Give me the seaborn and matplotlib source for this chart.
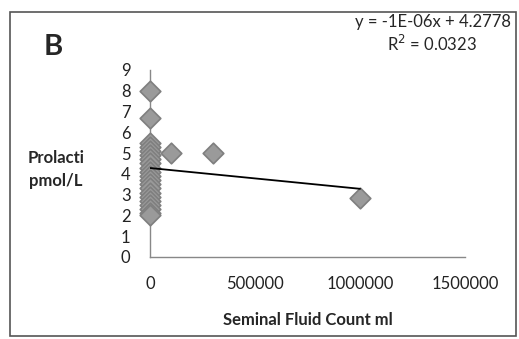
import matplotlib.pyplot as plt
import numpy as np
import seaborn as sns
import pandas as pd

# seminal fluid count (x) vs prolactin (y)
COUNT = [0] * 21 + [100000, 300000, 1000000]
PROLACTIN = [8.0, 6.7, 5.5, 5.3, 5.1, 4.9, 4.7, 4.5, 4.3, 4.1, 3.9, 3.7,
             3.5, 3.3, 3.1, 2.9, 2.7, 2.5, 2.3, 2.1, 2.0,
             5.0, 5.0, 2.85]
SLOPE = -1e-06
INTERCEPT = 4.2778
TREND_X = [0, 1000000]
X_TICKS = [0, 500000, 1000000, 1500000]
Y_TICKS = list(range(0, 10))

sns.set_style("white")
plt.rcParams["font.family"] = ["Lato", "DejaVu Sans"]

df = pd.DataFrame({"count": COUNT, "prolactin": PROLACTIN})

fig = plt.figure(figsize=(5.19, 3.39), dpi=100)
ax = fig.add_axes([0.289, 0.242, 0.607, 0.552])

sns.scatterplot(data=df, x="count", y="prolactin", ax=ax,
                marker="D", s=110, color="#9a9a9a",
                edgecolor="#7f7f7f", linewidth=1.2, zorder=3, clip_on=False)

tx = np.array(TREND_X)
ax.plot(tx, SLOPE * tx + INTERCEPT, color="black", linewidth=1.3, zorder=4)

ax.set_xlim(0, 1500000)
ax.set_ylim(0, 9)
ax.set_xticks(X_TICKS)
ax.set_xticklabels([str(t) for t in X_TICKS])
ax.set_yticks(Y_TICKS)
ax.tick_params(axis="both", labelsize=12, colors="#222222", length=4,
               color="#888888")
ax.tick_params(axis="x", direction="inout", length=6, pad=11)
ax.tick_params(axis="y", direction="out", pad=10)
ax.spines["top"].set_visible(False)
ax.spines["right"].set_visible(False)
for s in ["left", "bottom"]:
    ax.spines[s].set_color("#888888")
    ax.spines[s].set_linewidth(1.0)

ax.set_xlabel("Seminal Fluid Count ml", fontsize=12, fontweight="bold",
              labelpad=14)
ax.set_ylabel("")
fig.text(0.108, 0.50, "Prolacti\npmol/L", ha="center", va="center",
         fontsize=12, fontweight="bold", linespacing=1.5)

fig.text(0.085, 0.86, "B", fontsize=21, fontweight="bold", va="center")
fig.text(0.985, 0.935, "y = -1E-06x + 4.2778", ha="right", va="center",
         fontsize=12)
fig.text(0.918, 0.87, "R$^2$ = 0.0323", ha="right", va="center",
         fontsize=12)

# outer frame like the pasted chart
frame = plt.Rectangle((0.02, 0.01), 0.975, 0.955, transform=fig.transFigure,
                      fill=False, edgecolor="#555555", linewidth=1.2)
fig.patches.append(frame)

fig.savefig("out.png", dpi=100, facecolor="white")
